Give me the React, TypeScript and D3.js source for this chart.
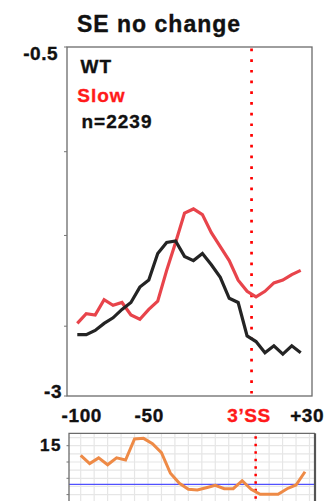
import * as d3 from "d3";
import { useEffect, useRef } from "react";

// bin centres (nt relative to the 3' splice site)
const positions = [
  -97.5, -92.5, -87.5, -82.5, -77.5, -72.5, -67.5, -62.5, -57.5, -52.5, -47.5, -42.5, -37.5,
  -32.5, -27.5, -22.5, -17.5, -12.5, -7.5, -2.5, 2.5, 7.5, 12.5, 17.5, 22.5, 27.5,
];

const wtValues = [
  -2.56, -2.56, -2.53, -2.48, -2.44, -2.38, -2.33, -2.22, -2.17, -1.98, -1.9, -1.89, -2.0,
  -2.03, -1.98, -2.06, -2.15, -2.3, -2.33, -2.57, -2.61, -2.69, -2.64, -2.7, -2.64, -2.69,
];

const slowValues = [
  -2.48, -2.41, -2.42, -2.31, -2.35, -2.33, -2.42, -2.45, -2.38, -2.32, -2.1, -1.9, -1.69,
  -1.66, -1.7, -1.83, -1.93, -2.03, -2.17, -2.25, -2.29, -2.25, -2.19, -2.17, -2.13, -2.1,
];

const lowerValues = [
  14.41, 13.9, 14.25, 13.83, 14.26, 14.12, 15.41, 15.45, 15.12, 14.57, 13.31, 12.69, 12.33,
  12.28, 12.42, 12.57, 12.36, 12.36, 12.85, 12.33, 12.02, 12.02, 12.02, 12.36, 12.59, 13.4,
];
const lowerMean = 12.63;

const xTicks = [-100, -50, 0, 30];
const xTickLabels = ["-100", "-50", "3\u2019SS", "+30"];
const yTicks = [-0.5, -1.25, -1.85, -2.5, -3];
const yTickLabels = ["-0.5", "", "", "", "-3"];
const lowerYTicks = [15, 14, 13, 12, 11];
const lowerYTickLabels = ["15", "", "", "", ""];

const FONT = "'Liberation Sans', Arial, sans-serif";

const App = () => {
  const ref = useRef<SVGSVGElement>(null);

  useEffect(() => {
    const svg = d3.select(ref.current);
    svg.selectAll("*").remove();

    const box = { left: 67, right: 312, top: 47, bottom: 396 };
    const x = d3.scaleLinear().domain([-97.5, 27.5]).range([77.3, 300.7]);
    const y = d3.scaleLinear().domain([-0.5, -3]).range([box.top, box.bottom]);

    // bold labels in the original are a little heavier than plain bold
    const heavy = (sel: any, color: string) =>
      sel
        .attr("font-family", FONT)
        .attr("font-weight", "bold")
        .attr("fill", color)
        .attr("stroke", color)
        .attr("stroke-width", 0.35);

    // title
    svg
      .append("text")
      .attr("x", 77)
      .attr("y", 32)
      .attr("font-size", 23)
      .attr("letter-spacing", 1)
      .call(heavy, "#111")
      .text("SE no change");

    // main frame
    svg
      .append("rect")
      .attr("x", box.left)
      .attr("y", box.top)
      .attr("width", box.right - box.left)
      .attr("height", box.bottom - box.top)
      .attr("fill", "none")
      .attr("stroke", "#6b6b6b")
      .attr("stroke-width", 1.3);

    // y ticks
    svg
      .selectAll(".ytick")
      .data(yTicks)
      .enter()
      .append("line")
      .attr("x1", box.left - 3)
      .attr("x2", box.left)
      .attr("y1", (d) => y(d))
      .attr("y2", (d) => y(d))
      .attr("stroke", "#777")
      .attr("stroke-width", 1);

    svg
      .selectAll(".ylabel")
      .data(yTicks)
      .enter()
      .append("text")
      .attr("x", (d, i) => (i === 0 ? 58 : 62))
      .attr("y", (d, i) => y(d) + (i === 0 ? 12.5 : 1.5))
      .attr("text-anchor", "end")
      .attr("font-size", 19)
      .attr("letter-spacing", 0.5)
      .call(heavy, "#111")
      .text((d, i) => yTickLabels[i]);

    // x labels (hand placed under the frame in the original)
    const labelShift = [9, -13, -2.5, 2];
    svg
      .selectAll(".xlabel")
      .data(xTicks)
      .enter()
      .append("text")
      .attr("x", (d, i) => x(d) + labelShift[i])
      .attr("y", 421.5)
      .attr("text-anchor", "middle")
      .attr("font-size", 19)
      .attr("letter-spacing", 0.6)
      .each(function (d) {
        heavy(d3.select(this), d === 0 ? "#ff1a1a" : "#111");
      })
      .text((d, i) => xTickLabels[i]);

    // 3'SS dotted marker
    svg
      .append("line")
      .attr("x1", x(0))
      .attr("x2", x(0))
      .attr("y1", box.top + 1.5)
      .attr("y2", box.bottom)
      .attr("stroke", "#ff0000")
      .attr("stroke-width", 2.7)
      .attr("stroke-dasharray", "2.7 8");

    const line = d3
      .line<number>()
      .x((d, i) => x(positions[i]))
      .y((d) => y(d));

    svg
      .append("path")
      .datum(slowValues)
      .attr("d", line)
      .attr("fill", "none")
      .attr("stroke", "#e8444b")
      .attr("stroke-width", 3.2);

    svg
      .append("path")
      .datum(wtValues)
      .attr("d", line)
      .attr("fill", "none")
      .attr("stroke", "#242424")
      .attr("stroke-width", 3.2);

    // legend
    const legend = [
      { text: "WT", color: "#111", x: 80.5, y: 72.5 },
      { text: "Slow", color: "#ff1a1a", x: 77.3, y: 101.5 },
      { text: "n=2239", color: "#111", x: 81.5, y: 128.3 },
    ];
    svg
      .selectAll(".legend")
      .data(legend)
      .enter()
      .append("text")
      .attr("x", (d) => d.x)
      .attr("y", (d) => d.y)
      .attr("font-size", 19)
      .attr("letter-spacing", 1)
      .each(function (d) {
        heavy(d3.select(this), d.color);
      })
      .text((d) => d.text);

    // lower panel
    const box2 = { left: 69, right: 315, top: 433.3, bottom: 560 };
    const x2 = d3.scaleLinear().domain([-97.5, 27.5]).range([80.7, 305]);
    const y2 = d3.scaleLinear().domain([15, 12]).range([445.7, 494.6]);

    const g2 = svg.append("g");

    g2.append("rect")
      .attr("x", box2.left)
      .attr("y", box2.top)
      .attr("width", box2.right - box2.left)
      .attr("height", box2.bottom - box2.top)
      .attr("fill", "#fff");

    g2.selectAll(".vgrid")
      .data(d3.range(-97.5, 31, 7.5))
      .enter()
      .append("line")
      .attr("x1", (d) => x2(d))
      .attr("x2", (d) => x2(d))
      .attr("y1", box2.top)
      .attr("y2", box2.bottom)
      .attr("stroke", "#e6e6e6")
      .attr("stroke-width", 1.2);

    g2.selectAll(".hgrid")
      .data(d3.range(15.5, 8, -0.5))
      .enter()
      .append("line")
      .attr("x1", box2.left)
      .attr("x2", box2.right)
      .attr("y1", (d) => y2(d))
      .attr("y2", (d) => y2(d))
      .attr("stroke", "#e6e6e6")
      .attr("stroke-width", 1.2);

    g2.append("line")
      .attr("x1", box2.left)
      .attr("x2", box2.right)
      .attr("y1", y2(lowerMean))
      .attr("y2", y2(lowerMean))
      .attr("stroke", "#5050ff")
      .attr("stroke-width", 1.3);

    g2.append("line")
      .attr("x1", x2(0))
      .attr("x2", x2(0))
      .attr("y1", box2.top + 3)
      .attr("y2", box2.bottom)
      .attr("stroke", "#ff0000")
      .attr("stroke-width", 2.5)
      .attr("stroke-dasharray", "2.5 5");

    const line2 = d3
      .line<number>()
      .x((d, i) => x2(positions[i]))
      .y((d) => y2(d));

    g2.append("path")
      .datum(lowerValues)
      .attr("d", line2)
      .attr("fill", "none")
      .attr("stroke", "#ee8a46")
      .attr("stroke-width", 3);

    // frame: thin top/left, heavier right
    g2.append("path")
      .attr("d", `M${box2.left},${box2.bottom}V${box2.top}H${box2.right}`)
      .attr("fill", "none")
      .attr("stroke", "#6b6b6b")
      .attr("stroke-width", 1.3);
    g2.append("line")
      .attr("x1", box2.right)
      .attr("x2", box2.right)
      .attr("y1", box2.top)
      .attr("y2", box2.bottom)
      .attr("stroke", "#555")
      .attr("stroke-width", 2.2);

    g2.selectAll(".ytick2")
      .data(lowerYTicks)
      .enter()
      .append("line")
      .attr("x1", box2.left - 2.5)
      .attr("x2", box2.left)
      .attr("y1", (d) => y2(d))
      .attr("y2", (d) => y2(d))
      .attr("stroke", "#777")
      .attr("stroke-width", 1);

    g2.selectAll(".ylabel2")
      .data(lowerYTicks)
      .enter()
      .append("text")
      .attr("x", 62)
      .attr("y", (d) => y2(d) + 5.5)
      .attr("text-anchor", "end")
      .attr("font-size", 17)
      .attr("letter-spacing", 1.5)
      .call(heavy, "#111")
      .text((d, i) => lowerYTickLabels[i]);
  }, []);

  return (
    <svg
      ref={ref}
      width={326}
      height={501}
      style={{ position: "absolute", left: 0, top: 0, background: "#fff" }}
    />
  );
};

export default App;
